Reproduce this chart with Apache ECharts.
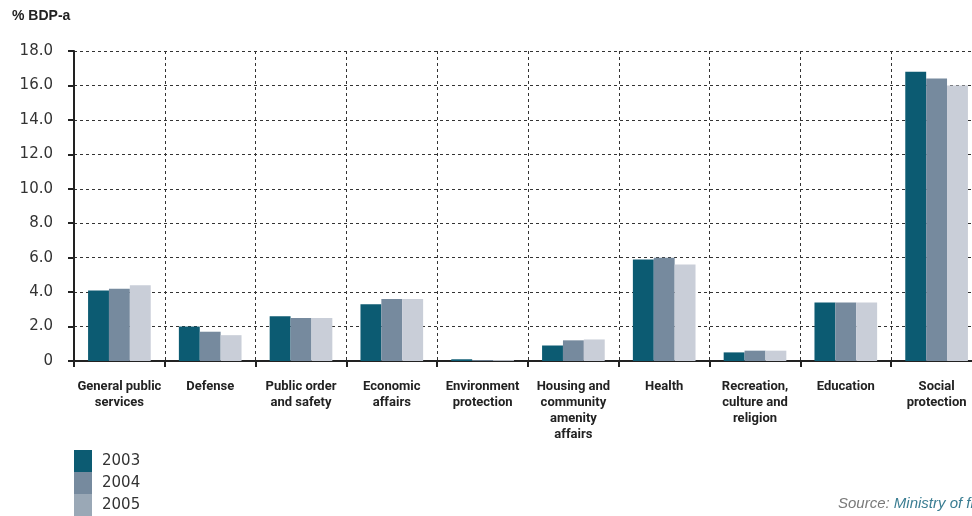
<!DOCTYPE html>
<html>
<head>
<meta charset="utf-8">
<script src="https://cdn.jsdelivr.net/npm/echarts@6/dist/echarts.min.js"></script>
<style>
  html, body { margin: 0; padding: 0; background: #fff; overflow: hidden; }
  #chart { width: 982px; height: 516px; }
</style>
</head>
<body>
<div id="chart"></div>
<script>
// Government expenditure by function, % of GDP
const categories = [
  'General public\nservices', 'Defense', 'Public order\nand safety', 'Economic\naffairs',
  'Environment\nprotection', 'Housing and\ncommunity\namenity\naffairs', 'Health',
  'Recreation,\nculture and\nreligion', 'Education', 'Social\nprotection'
];
const years = ['2003', '2004', '2005'];
const values2003 = [4.1, 2.0, 2.6, 3.3, 0.1, 0.9, 5.9, 0.5, 3.4, 16.8];
const values2004 = [4.2, 1.7, 2.5, 3.6, 0.05, 1.2, 6.0, 0.6, 3.4, 16.4];
const values2005 = [4.4, 1.5, 2.5, 3.6, 0.05, 1.25, 5.6, 0.6, 3.4, 16.0];
const barColors = ['#0c5b72', '#768a9e', '#c9ced8'];
const legendColors = ['#0c5b72', '#768a9e', '#9aa8b6'];

const chart = echarts.init(document.getElementById('chart'), null, { renderer: 'canvas' });
const seriesValues = [values2003, values2004, values2005];

chart.setOption({
  animation: false,
  backgroundColor: '#ffffff',
  textStyle: { fontFamily: '"DejaVu Sans", Arial, sans-serif' },
  graphic: [
    {
      type: 'text', left: 12, top: 9,
      style: { text: '% BDP-a', font: 'bold 14px "Liberation Sans", Arial, sans-serif', fill: '#222' }
    },
    {
      type: 'text', left: 838, top: 496,
      style: {
        text: '{a|Source: }{b|Ministry of finance}',
        rich: {
          a: { font: 'italic 15px "Liberation Sans", Arial, sans-serif', fill: '#7a7a7a' },
          b: { font: 'italic 15px "Liberation Sans", Arial, sans-serif', fill: '#3a7d92' }
        }
      }
    }
  ],
  legend: {
    orient: 'vertical',
    left: 74,
    top: 450,
    padding: 0,
    itemWidth: 18,
    itemHeight: 22,
    itemGap: 0,
    icon: 'rect',
    textStyle: { fontSize: 15, color: '#333', padding: [0, 0, 0, 5] },
    data: years.map((y, i) => ({ name: y, itemStyle: { color: legendColors[i] } }))
  },
  grid: { left: 74, top: 51, right: 0, height: 310 },
  xAxis: {
    type: 'category',
    data: categories,
    boundaryGap: true,
    axisLine: { lineStyle: { color: '#222', width: 2 } },
    axisTick: { show: true, length: 6, lineStyle: { color: '#222', width: 2 } },
    splitLine: { show: true, lineStyle: { color: '#333', type: [3, 3], width: 1 } },
    axisLabel: {
      interval: 0,
      margin: 18,
      fontFamily: 'Roboto, "Liberation Sans", Arial, sans-serif',
      fontWeight: 'bold',
      fontSize: 13,
      lineHeight: 16,
      color: '#222'
    }
  },
  yAxis: {
    type: 'value',
    min: 0,
    max: 18,
    interval: 2,
    axisLine: { show: true, lineStyle: { color: '#222', width: 2 } },
    axisTick: { show: true, length: 6, lineStyle: { color: '#222', width: 2 } },
    splitLine: { show: true, lineStyle: { color: '#333', type: [3, 3], width: 1 } },
    axisLabel: {
      margin: 21,
      fontSize: 15,
      color: '#333',
      formatter: v => (v === 0 ? '0' : v.toFixed(1))
    }
  },
  series: years.map((y, i) => ({
    name: y,
    type: 'bar',
    data: seriesValues[i],
    barGap: '0%',
    barCategoryGap: '31%',
    itemStyle: { color: barColors[i] }
  }))
});
</script>
</body>
</html>
